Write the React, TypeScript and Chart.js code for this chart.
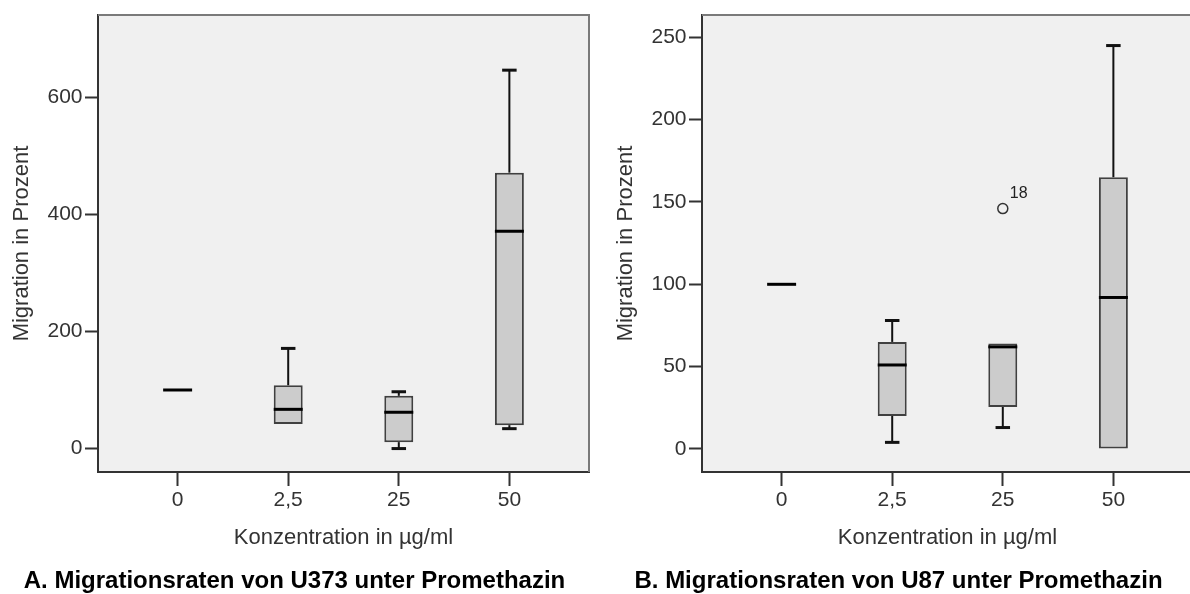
import { useEffect, useRef } from 'react';
import { Chart, registerables } from 'chart.js';

Chart.register(...registerables);

const FONT = "'Liberation Sans', Arial, Helvetica, sans-serif";

// Concentration groups on the x axis
const concentrations = ['0', '2,5', '25', '50'];

// U373 migration (%) – five-number summaries per group
const u373Min = [100, 42, 0, 34];
const u373Q1 = [100, 42, 11, 40];
const u373Median = [100, 67, 62, 371];
const u373Q3 = [100, 108, 90, 471];
const u373Max = [100, 171, 97, 646];
const u373Ticks = [0, 200, 400, 600];
const u373Range = [-40, 740];

// U87 migration (%) – five-number summaries per group
const u87Min = [100, 4, 13, 0];
const u87Q1 = [100, 20, 25.5, 0];
const u87Median = [100, 51, 62, 92];
const u87Q3 = [100, 65, 64, 165];
const u87Max = [100, 78, 64, 245];
const u87Ticks = [0, 50, 100, 150, 200, 250];
const u87Range = [-14, 263.5];

// U87 outliers: group index, value, case number
const u87OutlierGroup = [2];
const u87OutlierValue = [146];
const u87OutlierCase = ['18'];

const BOX_RATIO = 0.262;

type PanelProps = {
  title: string;
  min: number[];
  q1: number[];
  median: number[];
  q3: number[];
  max: number[];
  ticks: number[];
  range: number[];
  outlierGroup?: number[];
  outlierValue?: number[];
  outlierCase?: string[];
  left: number;
};

function BoxPanel(props: PanelProps) {
  const ref = useRef<HTMLCanvasElement | null>(null);

  useEffect(() => {
    const canvas = ref.current;
    if (!canvas) return;
    const { min, q1, median, q3, max, ticks, range } = props;
    const oGroup = props.outlierGroup || [];
    const oValue = props.outlierValue || [];
    const oCase = props.outlierCase || [];

    const framePlugin = {
      id: 'plotFrame',
      beforeDraw(chart: any) {
        const { ctx, chartArea: a } = chart;
        ctx.save();
        ctx.fillStyle = '#f0f0f0';
        ctx.fillRect(a.left, a.top, a.right - a.left, a.bottom - a.top);
        ctx.restore();
      },
      afterDraw(chart: any) {
        const { ctx, chartArea: a } = chart;
        ctx.save();
        ctx.strokeStyle = '#7a7a7a';
        ctx.lineWidth = 2;
        ctx.beginPath();
        ctx.moveTo(a.left, a.top);
        ctx.lineTo(a.right, a.top);
        ctx.lineTo(a.right, a.bottom);
        ctx.stroke();
        ctx.restore();
      },
    };

    const whiskerPlugin = {
      id: 'boxWhiskers',
      beforeDatasetsDraw(chart: any) {
        const { ctx } = chart;
        const xs = chart.scales.x;
        const ys = chart.scales.y;
        const w = (xs.getPixelForValue(1) - xs.getPixelForValue(0)) * BOX_RATIO;
        ctx.save();
        ctx.strokeStyle = '#111';
        for (let i = 0; i < concentrations.length; i++) {
          const x = xs.getPixelForValue(i);
          const segs: [number, number][] = [];
          if (max[i] > q3[i]) segs.push([q3[i], max[i]]);
          if (min[i] < q1[i]) segs.push([q1[i], min[i]]);
          for (const [from, to] of segs) {
            const y0 = ys.getPixelForValue(from);
            const y1 = ys.getPixelForValue(to);
            ctx.lineWidth = 2;
            ctx.beginPath();
            ctx.moveTo(x, y0);
            ctx.lineTo(x, y1);
            ctx.stroke();
            ctx.lineWidth = 3;
            ctx.beginPath();
            ctx.moveTo(x - w / 4, y1);
            ctx.lineTo(x + w / 4, y1);
            ctx.stroke();
          }
        }
        ctx.restore();
      },
      afterDatasetsDraw(chart: any) {
        const { ctx } = chart;
        const xs = chart.scales.x;
        const ys = chart.scales.y;
        const w = (xs.getPixelForValue(1) - xs.getPixelForValue(0)) * BOX_RATIO;
        ctx.save();
        ctx.strokeStyle = '#000';
        ctx.lineWidth = 3;
        for (let i = 0; i < concentrations.length; i++) {
          const x = xs.getPixelForValue(i);
          const y = ys.getPixelForValue(median[i]);
          ctx.beginPath();
          ctx.moveTo(x - w / 2, y);
          ctx.lineTo(x + w / 2, y);
          ctx.stroke();
        }
        // case numbers next to outliers
        ctx.fillStyle = '#222';
        ctx.font = `16px ${FONT}`;
        ctx.textAlign = 'left';
        ctx.textBaseline = 'middle';
        for (let k = 0; k < oGroup.length; k++) {
          const x = xs.getPixelForValue(oGroup[k]);
          const y = ys.getPixelForValue(oValue[k]);
          ctx.fillText(oCase[k], x + 7, y - 15);
        }
        ctx.restore();
      },
    };

    const datasets: any[] = [
      {
        type: 'bar',
        data: concentrations.map((_, i) => ({ x: i, y: [q1[i], q3[i]] })),
        backgroundColor: '#cccccc',
        borderColor: '#404040',
        borderWidth: 2,
        borderSkipped: false,
        barPercentage: BOX_RATIO,
        categoryPercentage: 1,
      },
    ];
    if (oGroup.length) {
      datasets.push({
        type: 'scatter',
        data: oGroup.map((g, k) => ({ x: g, y: oValue[k] })),
        pointRadius: 5,
        pointBorderWidth: 1.5,
        pointBackgroundColor: 'rgba(0,0,0,0)',
        pointBorderColor: '#333',
      });
    }

    const chart = new Chart(canvas, {
      type: 'bar',
      data: { datasets },
      plugins: [framePlugin, whiskerPlugin],
      options: {
        animation: false,
        responsive: false,
        devicePixelRatio: 1,
        layout: { padding: { top: 13.5, right: 15, bottom: 0, left: 0 } },
        plugins: {
          legend: { display: false },
          tooltip: { enabled: false },
          title: {
            display: true,
            position: 'bottom',
            text: props.title,
            color: '#000',
            font: { family: FONT, size: 24, weight: 'bold', lineHeight: 1 },
            padding: { top: 0, bottom: 1 },
          },
        },
        scales: {
          x: {
            type: 'linear',
            min: -0.72,
            max: 3.72,
            offset: false,
            afterBuildTicks(scale: any) {
              scale.ticks = concentrations.map((_, i) => ({ value: i }));
            },
            afterFit(scale: any) {
              scale.height = 97;
            },
            ticks: {
              autoSkip: false,
              padding: 2,
              color: '#333',
              font: { family: FONT, size: 21 },
              callback: (v: any) => concentrations[v as number],
            },
            grid: {
              offset: false,
              drawOnChartArea: false,
              drawTicks: true,
              tickLength: 14,
              tickWidth: 2,
              tickColor: '#333',
            },
            border: { display: true, color: '#333', width: 2 },
            title: {
              display: true,
              text: 'Konzentration in µg/ml',
              color: '#333',
              font: { family: FONT, size: 22 },
              padding: { top: 0, bottom: 18 },
            },
          },
          y: {
            type: 'linear',
            min: range[0],
            max: range[1],
            afterBuildTicks(scale: any) {
              scale.ticks = ticks.map((v) => ({ value: v }));
            },
            afterFit(scale: any) {
              scale.width = 98;
            },
            ticks: {
              padding: 2.5,
              color: '#333',
              font: { family: FONT, size: 21 },
              callback: (v: any) => String(v),
            },
            grid: {
              drawOnChartArea: false,
              drawTicks: true,
              tickLength: 13,
              tickWidth: 2,
              tickColor: '#333',
            },
            border: { display: true, color: '#333', width: 2 },
            title: {
              display: true,
              text: 'Migration in Prozent',
              color: '#333',
              font: { family: FONT, size: 22 },
              padding: { top: 9, bottom: 0 },
            },
          },
        },
      } as any,
    });

    return () => chart.destroy();
  }, []);

  return (
    <canvas
      ref={ref}
      width={604}
      height={594}
      style={{ position: 'absolute', left: props.left, top: 0, width: 604, height: 594 }}
    />
  );
}

export default function App() {
  return (
    <div
      style={{
        position: 'fixed',
        left: 0,
        top: 0,
        width: 1190,
        height: 594,
        overflow: 'hidden',
        background: '#fff',
      }}
    >
      <BoxPanel
        title="A. Migrationsraten von U373 unter Promethazin"
        min={u373Min}
        q1={u373Q1}
        median={u373Median}
        q3={u373Q3}
        max={u373Max}
        ticks={u373Ticks}
        range={u373Range}
        left={0}
      />
      <BoxPanel
        title="B. Migrationsraten von U87 unter Promethazin"
        min={u87Min}
        q1={u87Q1}
        median={u87Median}
        q3={u87Q3}
        max={u87Max}
        ticks={u87Ticks}
        range={u87Range}
        outlierGroup={u87OutlierGroup}
        outlierValue={u87OutlierValue}
        outlierCase={u87OutlierCase}
        left={604}
      />
    </div>
  );
}
